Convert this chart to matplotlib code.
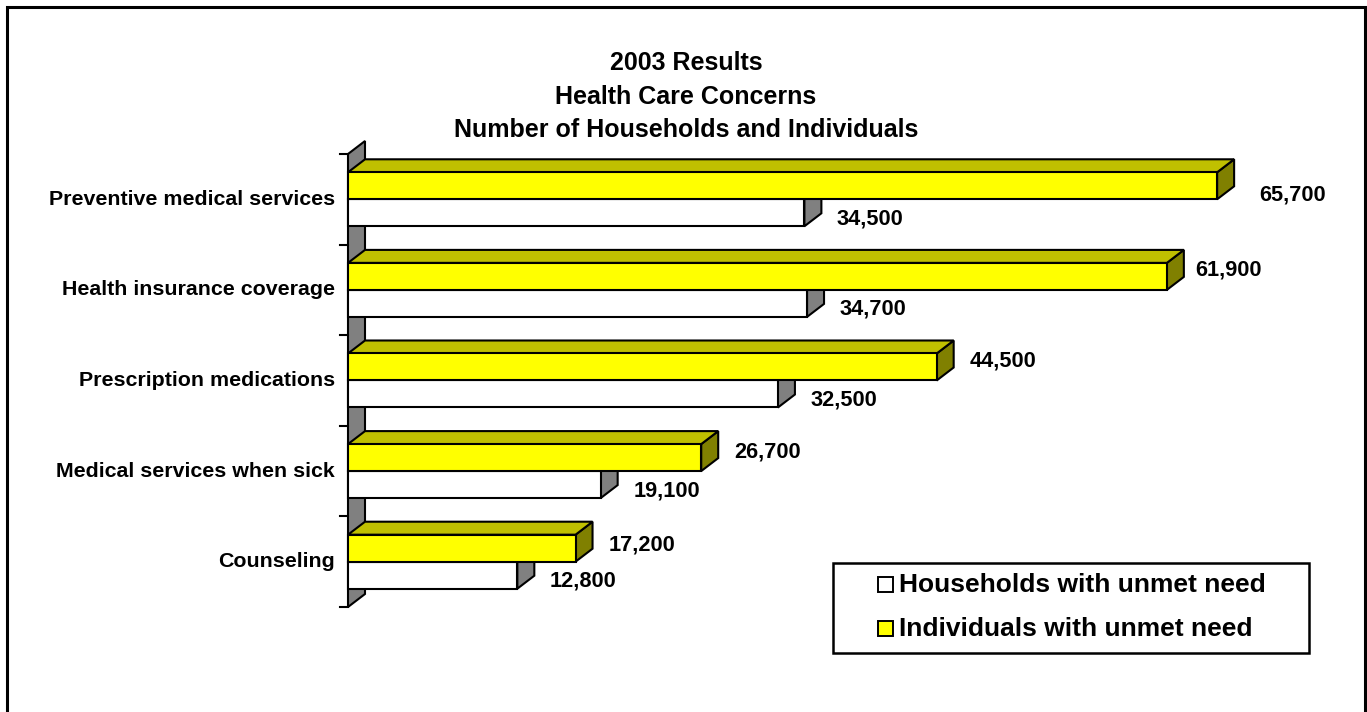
import matplotlib.pyplot as plt
from matplotlib.patches import Polygon, Rectangle
from matplotlib.lines import Line2D

plt.rcParams['font.family'] = ['Liberation Sans', 'DejaVu Sans']
plt.rcParams['font.weight'] = 'bold'

# data
categories = ['Preventive medical services', 'Health insurance coverage',
              'Prescription medications', 'Medical services when sick', 'Counseling']
households = [34500, 34700, 32500, 19100, 12800]
individuals = [65700, 61900, 44500, 26700, 17200]
series_names = ['Households with unmet need', 'Individuals with unmet need']

# pixel nudges for the individuals value labels (first one sits lower/right)
label_nudge = [(9, -15), (-4, 0), (0, 0), (0, 0), (0, -3)]

W, H = 1367, 712
fig = plt.figure(figsize=(W / 100, H / 100), dpi=100)

# plot area in pixels: axis line at x=348, categories between y=154 and y=607
x0_px, x1_px = 348, 1274
ytop_px, ybot_px = 154, 607
xmax = 70000
ax = fig.add_axes([x0_px / W, 1 - ybot_px / H, (x1_px - x0_px) / W, (ybot_px - ytop_px) / H])
ax.set_xlim(0, xmax)
ax.set_ylim(0, len(categories))
ax.axis('off')

sx = xmax / (x1_px - x0_px)                      # data units per pixel (x)
sy = len(categories) / (ybot_px - ytop_px)       # data units per pixel (y)
dx, dy = 17 * sx, 13 * sy                        # depth of the 3-d effect
bh = 27 * sy                                     # bar thickness
lw = 1.5


def poly(pts, fc, z):
    ax.add_patch(Polygon(pts, closed=True, facecolor=fc, edgecolor='black',
                         linewidth=lw, joinstyle='miter', zorder=z, clip_on=False))


def bar3d(y0, val, front, top, side, z, show_top=True):
    y1 = y0 + bh
    poly([(val, y0), (val + dx, y0 + dy), (val + dx, y1 + dy), (val, y1)], side, z)
    if show_top:
        poly([(0, y1), (dx, y1 + dy), (val + dx, y1 + dy), (val, y1)], top, z)
    poly([(0, y0), (val, y0), (val, y1), (0, y1)], front, z + 0.5)


# back wall
n = len(categories)
poly([(0, 0), (dx, dy), (dx, n + dy), (0, n)], '#808080', 1)
for k in range(n + 1):
    ax.add_line(Line2D([-8 * sx, 0], [k, k], color='black', linewidth=lw, clip_on=False))

for i, cat in enumerate(categories):
    yc = n - 0.5 - i
    # white bar sits below the centre line, yellow above it
    bar3d(yc - bh, households[i], 'white', 'white', '#808080', 2 + i, show_top=False)
    bar3d(yc, individuals[i], '#FFFF00', '#C0C000', '#808000', 3 + i)
    ax.text(-13 * sx, yc, cat, ha='right', va='center', fontsize=15.4, fontweight='bold')
    nx, ny = label_nudge[i]
    ax.text(individuals[i] + (66 + nx) * sx, yc + bh / 2 + (6 + ny) * sy, f'{individuals[i]:,}',
            ha='center', va='center', fontsize=15.7, fontweight='bold')
    ax.text(households[i] + 66 * sx, yc - bh / 2 - 6 * sy, f'{households[i]:,}',
            ha='center', va='center', fontsize=15.7, fontweight='bold')

# title
for line, ypx in zip(['2003 Results', 'Health Care Concerns', 'Number of Households and Individuals'],
                     [63, 97, 130]):
    fig.text(686 / W, 1 - ypx / H, line, ha='center', va='center', fontsize=18, fontweight='bold')

# legend
fig.patches.append(Rectangle((833 / W, 1 - 653 / H), (1309 - 833) / W, 90 / H,
                             transform=fig.transFigure, facecolor='white',
                             edgecolor='black', linewidth=1.8))
for name, fc, ypx in zip(series_names, ['white', '#FFFF00'], [585, 629]):
    fig.patches.append(Rectangle((878 / W, 1 - (ypx + 7) / H), 15 / W, 15 / H,
                                 transform=fig.transFigure, facecolor=fc,
                                 edgecolor='black', linewidth=1.4))
    fig.text(899 / W, 1 - ypx / H, name, ha='left', va='center', fontsize=19, fontweight='bold')

# outer frame
fig.patches.append(Rectangle((7 / W, -0.05), (1365 - 7) / W, 1.05 - 7 / H,
                             transform=fig.transFigure, fill=False,
                             edgecolor='black', linewidth=2.2))

fig.savefig('out.png', dpi=100)
